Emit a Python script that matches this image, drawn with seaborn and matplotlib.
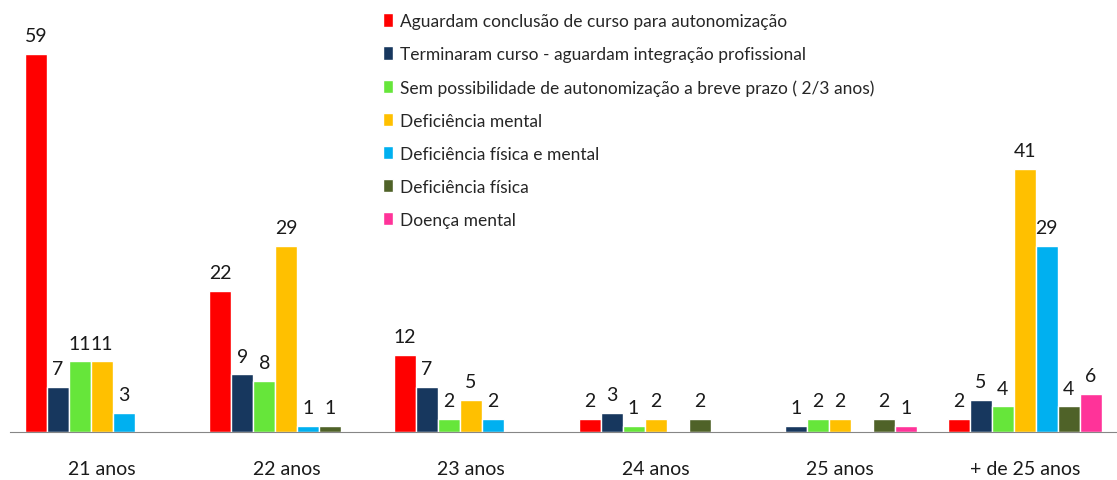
import numpy as np
import pandas as pd
import seaborn as sns
import matplotlib.pyplot as plt

# Categories (age groups)
grupos = ['21 anos', '22 anos', '23 anos', '24 anos', '25 anos', '+ de 25 anos']

# Series names
series = [
    'Aguardam conclusão de curso para autonomização',
    'Terminaram curso - aguardam integração profissional',
    'Sem possibilidade de autonomização a breve prazo ( 2/3 anos)',
    'Deficiência mental',
    'Deficiência física e mental',
    'Deficiência física',
    'Doença mental',
]

# Values per series, one per age group
aguardam_conclusao = [59, 22, 12, 2, 0, 2]
terminaram_curso = [7, 9, 7, 3, 1, 5]
sem_possibilidade = [11, 8, 2, 1, 2, 4]
def_mental = [11, 29, 5, 2, 2, 41]
def_fisica_mental = [3, 1, 2, 0, 0, 29]
def_fisica = [0, 1, 0, 2, 2, 4]
doenca_mental = [0, 0, 0, 0, 1, 6]

valores = [aguardam_conclusao, terminaram_curso, sem_possibilidade,
           def_mental, def_fisica_mental, def_fisica, doenca_mental]

cores = ['#FF0000', '#17375E', '#66E63A', '#FFC000', '#00B0F0', '#4F6228', '#FF3399']

# Long-form table for seaborn
df = pd.DataFrame(
    [(g, s, v) for s, vals in zip(series, valores) for g, v in zip(grupos, vals)],
    columns=['grupo', 'serie', 'valor'],
)

sns.set_style('white')
plt.rcParams['font.family'] = ['Lato', 'DejaVu Sans']

fig = plt.figure(figsize=(11.17, 4.81), dpi=100)
ax = fig.add_axes([9.6 / 1117, 48 / 481, 1 - 9.6 / 1117, 1 - 48 / 481])

sns.barplot(data=df, x='grupo', y='valor', hue='serie', hue_order=series,
            order=grupos, palette=cores, width=0.835, saturation=1,
            errorbar=None, ax=ax)

# Value labels above bars (skip zeros)
for cont in ax.containers:
    labs = [f'{b.get_height():g}' if b.get_height() > 0 else '' for b in cont]
    ax.bar_label(cont, labels=labs, padding=7, fontsize=14, color='#1a1a1a')

ax.set_xlim(-0.5, 5.445)
ax.set_ylim(0, 67.5)
ax.set_xlabel('')
ax.set_ylabel('')
ax.set_yticks([])
for side in ['left', 'right', 'top']:
    ax.spines[side].set_visible(False)
ax.spines['bottom'].set_color('#868686')

# Category labels centred, tick marks at group boundaries
ax.set_xticks(range(len(grupos)))
ax.set_xticklabels(grupos, fontsize=14, color='#1a1a1a')
ax.tick_params(axis='x', which='major', length=0, pad=20)
ax.set_xticks(np.arange(-0.5, len(grupos), 1), minor=True)
ax.tick_params(axis='x', which='minor', length=7, color='#868686', width=1)

ax.legend(loc='upper left', bbox_to_anchor=(376 / 1117, 1 - 7 / 481),
          bbox_transform=fig.transFigure, frameon=False, fontsize=12.5,
          handlelength=0.6, handleheight=0.8, handletextpad=0.4,
          labelspacing=0.98, borderaxespad=0)

fig.savefig('out.png', dpi=100)
